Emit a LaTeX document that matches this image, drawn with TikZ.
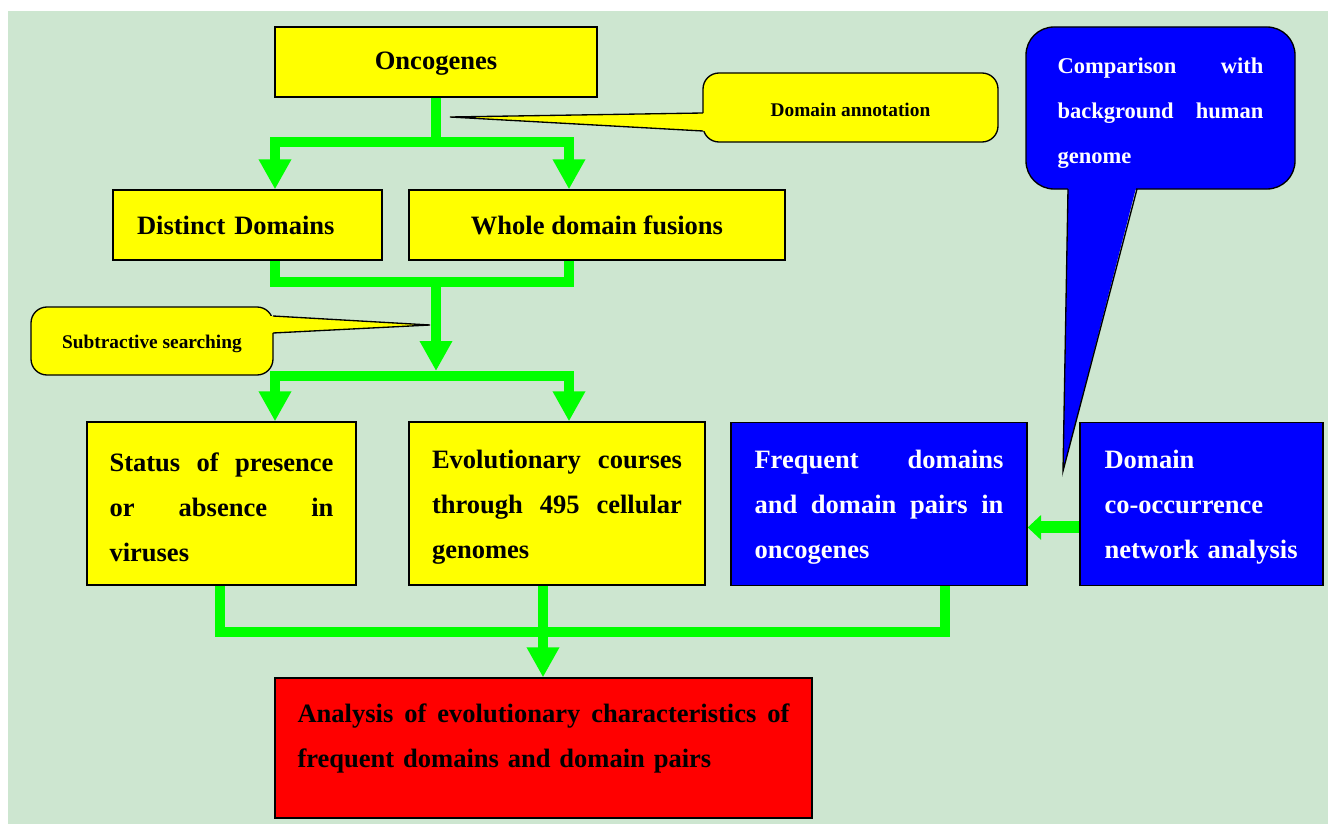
\documentclass[tikz,border=0pt]{standalone}
\usepackage{fontspec}
\setmainfont{Liberation Serif}
\usetikzlibrary{arrows.meta,backgrounds}

\definecolor{pagegreen}{RGB}{205,230,208}
\definecolor{linkgreen}{RGB}{0,255,0}
\definecolor{boxyellow}{RGB}{255,255,0}
\definecolor{boxblue}{RGB}{0,0,255}
\definecolor{boxred}{RGB}{255,0,0}

% one justified line of a given width
\newcommand{\spreadline}[2]{\leavevmode\hbox to #1{#2}}

\tikzset{
  box/.style={draw=black, line width=1pt, inner sep=0pt, font=\bfseries\fontsize{19.9}{33.75}\selectfont},
  yellowbox/.style={box, fill=boxyellow},
  bluebox/.style={box, fill=boxblue, text=white},
  redbox/.style={box, fill=boxred},
  note/.style={box, fill=boxyellow, rounded corners=12pt, font=\bfseries\fontsize{14.5}{17}\selectfont},
  link/.style={draw=linkgreen, line width=7pt, line cap=rect},
  linkarrow/.style={link, -{Triangle[width=23pt,length=22.5pt]}},
}

\begin{document}
\begin{tikzpicture}[x=0.75pt,y=0.75pt,yscale=-1,xscale=1]
\useasboundingbox (0,0) rectangle (1328,824);

%Shape: Rectangle [Oncogenes]
\node[yellowbox, minimum width=241.5pt, minimum height=52.5pt] (onc) at (436,62) {\rule{0pt}{16pt}Oncogenes};
%Shape: Rectangle [Distinct Domains]
\node[yellowbox, minimum width=201.75pt, minimum height=52.5pt, text width=165.75pt, align=left] (dd) at (247.5,225) {Distinct Domains};
%Shape: Rectangle [Whole domain fusions]
\node[yellowbox, minimum width=282pt, minimum height=52.5pt] (wdf) at (597,225) {Whole domain fusions};

%Shape: Rectangle [Status]
\node[yellowbox, minimum width=201.75pt, minimum height=122.25pt, text width=168pt, align=left] (stat) at (221.5,503.5)
  {\rule{0pt}{19pt}\spreadline{168pt}{Status \hfill of \hfill presence}\\\spreadline{168pt}{or \hfill absence \hfill in}\\viruses};
%Shape: Rectangle [Evolutionary courses]
\node[yellowbox, minimum width=222pt, minimum height=122.25pt, text width=187.5pt, align=left] (evo) at (557,503.5)
  {\rule{0pt}{19pt}\spreadline{187.5pt}{Evolutionary \hfill courses}\\\spreadline{187.5pt}{through \hfill 495 \hfill cellular}\\genomes};
%Shape: Rectangle [Frequent domains]
\node[bluebox, minimum width=222pt, minimum height=122.25pt, text width=186.75pt, align=left] (freq) at (879,504)
  {\rule{0pt}{19pt}\spreadline{186.75pt}{Frequent \hfill domains}\\\spreadline{186.75pt}{and \hfill domain \hfill pairs \hfill in}\\oncogenes};
%Shape: Rectangle [co-occurrence]
\node[bluebox, minimum width=182.25pt, minimum height=122.25pt, text width=145.5pt, align=left] (dco) at (1201.5,504)
  {\rule{0pt}{19pt}Domain\\co-occurrence\\network analysis};

%Shape: Rectangle [Analysis]
\node[redbox, minimum width=402.75pt, minimum height=105pt, text width=369pt, align=left] (ana) at (543.5,748)
  {\spreadline{369pt}{Analysis \hfill of \hfill evolutionary \hfill characteristics \hfill of}\\frequent domains and domain pairs\rule[-19pt]{0pt}{0pt}};

%Callout [Domain annotation]
\node[note, minimum width=221.25pt, minimum height=51.75pt] (ann) at (850.5,107.5) {\rule{0pt}{14pt}Domain annotation};
\fill[boxyellow] (707,113) -- (450,117) -- (707,131) -- cycle;
\draw[line width=1pt] (703,113) -- (450,117) -- (703,131);

%Callout [Subtractive searching]
\node[note, minimum width=181.5pt, minimum height=51pt] (sub) at (152,341) {\rule{0pt}{14pt}Subtractive searching};
\fill[boxyellow] (269,316) -- (430,325) -- (269,333) -- cycle;
\draw[line width=1pt] (273,316) -- (430,325) -- (273,333);

%Callout [Comparison]
\node[bluebox, rounded corners=21pt, minimum width=201.75pt, minimum height=121.5pt, text width=154.5pt, align=left,
  font=\bfseries\fontsize{16.9}{33.75}\selectfont] (cmp) at (1160.5,108)
  {\rule{0pt}{19pt}\spreadline{154.5pt}{Comparison \hfill with}\\\spreadline{154.5pt}{background \hfill human}\\genome};
\fill[boxblue] (1068,184) -- (1063,471) -- (1137,184) -- cycle;
\draw[line width=1pt] (1068,189) -- (1063,471) -- (1137,189);

\begin{scope}[on background layer]
%Page
\fill[pagegreen] (8,11) rectangle (1328,824);

% join points of the green links
\coordinate (t1l) at (275,142);
\coordinate (t1r) at (569,142);
\coordinate (m1l) at (275,282);
\coordinate (m1r) at (569,282);
\coordinate (t2c) at (436,371);
\coordinate (t2l) at (275,376);
\coordinate (t2r) at (569,376);
\coordinate (b1l) at (220,632);
\coordinate (b1c) at (543,632);
\coordinate (b1r) at (945,632);

%Straight Lines
\draw[link] (onc.south) -- (onc.south |- t1l);
\draw[link] (t1l) -- (t1r);
\draw[linkarrow] (t1l) -- (t1l |- dd.north);
\draw[linkarrow] (t1r) -- (t1r |- wdf.north);

\draw[link] (m1l |- dd.south) -- (m1l) -- (m1r) -- (m1r |- wdf.south);
\draw[linkarrow] (onc.south |- m1l) -- (t2c);
\draw[link] (t2l) -- (t2r);
\draw[linkarrow] (t2l) -- (t2l |- stat.north);
\draw[linkarrow] (t2r) -- (t2r |- evo.north);

\draw[link] (b1l |- stat.south) -- (b1l) -- (b1r) -- (b1r |- freq.south);
\draw[linkarrow] (b1c |- evo.south) -- (b1c |- ana.north);

\draw[link, line width=9pt, -{Triangle[width=18pt,length=10pt]}] ([yshift=17.6pt]dco.west) -- ([yshift=17.6pt]freq.east);
\end{scope}

\end{tikzpicture}
\end{document}
